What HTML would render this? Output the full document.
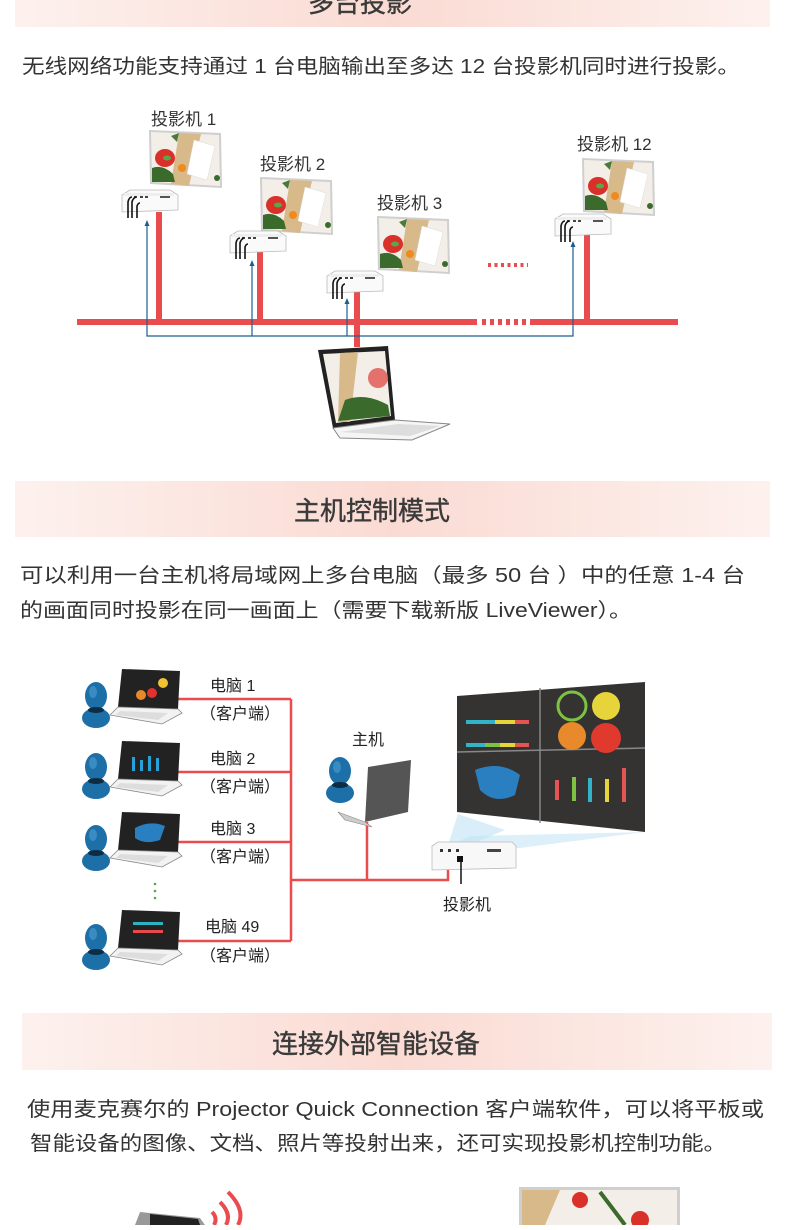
<!DOCTYPE html>
<html><head><meta charset="utf-8"><style>
html,body{margin:0;padding:0;background:#fff}
body{width:790px;height:1225px;overflow:hidden;position:relative;font-family:"Liberation Sans","Noto Sans CJK SC",sans-serif}
svg text{font-family:"Liberation Sans","Noto Sans CJK SC",sans-serif}
</style></head><body>
<svg width="790" height="1225" viewBox="0 0 790 1225" xmlns="http://www.w3.org/2000/svg">
<defs>
<linearGradient id="band" x1="0" x2="1" y1="0" y2="0">
<stop offset="0" stop-color="#fdf1ee"/><stop offset="0.5" stop-color="#fadbd3"/><stop offset="1" stop-color="#fdf1ee"/>
</linearGradient>
<g id="scr">
<polygon points="0,0 72,3 73,58 1,54" fill="#cfcfcf"/>
<polygon points="2,2 70,5 71,56 3,52" fill="#f3efe8"/>
<polygon points="30,3 52,4 40,56 22,54" fill="#d8b98a"/>
<polygon points="45,10 66,16 58,50 38,44" fill="#fff" stroke="#ddd" stroke-width="0.5"/>
<ellipse cx="16" cy="28" rx="10" ry="9" fill="#d9302a"/>
<ellipse cx="18" cy="28" rx="4" ry="2.5" fill="#5aa64a"/>
<path d="M3 38 Q14 34 24 44 L26 52 L3 52Z" fill="#3a6b2c"/>
<circle cx="33" cy="38" r="4" fill="#f08a1c"/>
<path d="M22 6 L30 3 L28 12Z" fill="#4a7a3a"/>
<circle cx="68" cy="48" r="3" fill="#3a6b2c"/>
</g>
<g id="proj">
<path d="M2 5 L10 0 L50 0 L58 5 L58 20 L2 22Z" fill="#fafafa" stroke="#bbb" stroke-width="0.8"/>
<rect x="4" y="3" width="50" height="3" fill="#eee"/>
<rect x="40" y="6" width="10" height="2" fill="#555"/>
<rect x="14" y="6" width="3" height="2" fill="#444"/><rect x="20" y="6" width="3" height="2" fill="#444"/><rect x="25" y="6" width="3" height="2" fill="#444"/>
<path d="M8 28 L8 12 Q9 7 12 7 M12 28 L12 12 Q13 8 16 7 M17 28 L17 16 Q18 13 20 13" stroke="#111" stroke-width="1.6" fill="none"/>
</g>
<g id="person">
<ellipse cx="14" cy="14" rx="11" ry="14" fill="#1d6fa8"/>
<ellipse cx="14" cy="36" rx="14" ry="10" fill="#1d6fa8"/>
<ellipse cx="14" cy="28" rx="8" ry="3" fill="#0c2d44"/>
<ellipse cx="11" cy="10" rx="4" ry="6" fill="#4f9fd3" opacity="0.6"/>
</g>
<g id="lap">
<polygon points="12,0 70,2 68,40 8,38" fill="#222"/>
<polygon points="8,38 68,40 72,44 52,55 0,46" fill="#f2f2f2" stroke="#888" stroke-width="0.8"/>
<polygon points="10,42 58,44 48,51 6,46" fill="#ddd"/>
</g>
</defs>

<rect x="15" y="0" width="755" height="27" fill="url(#band)"/>
<text x="360" y="12" font-size="26" fill="#3a3a3a" text-anchor="middle" stroke="#3a3a3a" stroke-width="0.4">多台投影</text>
<text x="22" y="73" font-size="20" fill="#333" textLength="718" lengthAdjust="spacingAndGlyphs">无线网络功能支持通过 1 台电脑输出至多达 12 台投影机同时进行投影。</text>

<text x="151" y="125" font-size="17" fill="#333">投影机 1</text>
<text x="260" y="170" font-size="17" fill="#333">投影机 2</text>
<text x="377" y="209" font-size="17" fill="#333">投影机 3</text>
<text x="577" y="150" font-size="17" fill="#333">投影机 12</text>
<use href="#scr" x="149" y="130"/>
<use href="#scr" x="260" y="177"/>
<use href="#scr" x="377" y="216"/>
<use href="#scr" x="582" y="158"/>
<g fill="#e94c4f">
<rect x="77" y="319" width="400" height="6"/>
<rect x="530" y="319" width="148" height="6"/>
<rect x="156" y="212" width="6" height="110"/>
<rect x="257" y="252" width="6" height="70"/>
<rect x="354" y="291" width="6" height="56"/>
<rect x="584" y="235" width="6" height="87"/>
</g>
<line x1="482" y1="322" x2="530" y2="322" stroke="#e94c4f" stroke-width="6" stroke-dasharray="4,4"/>
<line x1="488" y1="265" x2="528" y2="265" stroke="#e94c4f" stroke-width="4" stroke-dasharray="3,3.5"/>
<g stroke="#1c5f8e" stroke-width="1.2" fill="none">
<polyline points="147,224 147,336 573,336 573,245"/>
<line x1="252" y1="264" x2="252" y2="336"/>
<line x1="347" y1="302" x2="347" y2="336"/>
</g>
<g fill="#1c5f8e">
<polygon points="147,220 144.5,226 149.5,226"/>
<polygon points="252,260 249.5,266 254.5,266"/>
<polygon points="347,298 344.5,304 349.5,304"/>
<polygon points="573,241 570.5,247 575.5,247"/>
</g>
<use href="#proj" x="120" y="190"/>
<use href="#proj" x="228" y="231"/>
<use href="#proj" x="325" y="271"/>
<use href="#proj" x="553" y="214"/>
<polygon points="318,350 388,346 395,420 333,428" fill="#222"/>
<polygon points="323,354 385,351 391,416 336,423" fill="#f3efe8"/>
<polygon points="340,353 358,352 350,422 338,422" fill="#d8b98a"/>
<circle cx="378" cy="378" r="10" fill="#e05a55" opacity="0.85"/>
<path d="M345 400 Q365 392 388 405 L390 416 L338 421Z" fill="#3a6b2c"/>
<polygon points="333,428 395,420 450,424 412,440 340,438" fill="#f5f5f5" stroke="#888" stroke-width="1"/>
<polygon points="340,432 398,424 440,426 410,436" fill="#ddd"/>

<rect x="15" y="481" width="755" height="56" fill="url(#band)"/>
<text x="372" y="520" font-size="26" fill="#3a3a3a" text-anchor="middle" stroke="#3a3a3a" stroke-width="0.4">主机控制模式</text>
<text x="20" y="582" font-size="20" fill="#333" textLength="725" lengthAdjust="spacingAndGlyphs">可以利用一台主机将局域网上多台电脑（最多 50 台 ）中的任意 1-4 台</text>
<text x="20" y="617" font-size="20" fill="#333" textLength="612" lengthAdjust="spacingAndGlyphs">的画面同时投影在同一画面上（需要下载新版 LiveViewer）。</text>

<g stroke="#e94c4f" stroke-width="2.5" fill="none">
<line x1="175" y1="699" x2="291" y2="699"/>
<line x1="175" y1="772" x2="291" y2="772"/>
<line x1="175" y1="842" x2="291" y2="842"/>
<line x1="175" y1="941" x2="291" y2="941"/>
<line x1="291" y1="699" x2="291" y2="941"/>
<polyline points="291,880 448,880 448,852"/>
<line x1="367" y1="822" x2="367" y2="880"/>
</g>
<use href="#lap" x="110" y="669"/><use href="#person" x="82" y="682"/>
<use href="#lap" x="110" y="741"/><use href="#person" x="82" y="753"/>
<use href="#lap" x="110" y="812"/><use href="#person" x="82" y="825"/>
<use href="#lap" x="110" y="910"/><use href="#person" x="82" y="924"/>
<circle cx="152" cy="693" r="5" fill="#e0332f"/>
<circle cx="163" cy="683" r="5" fill="#f1c232"/>
<circle cx="141" cy="695" r="5" fill="#e8892b"/>
<g fill="#27a1d8"><rect x="132" y="757" width="3" height="14"/><rect x="140" y="760" width="3" height="11"/><rect x="148" y="756" width="3" height="15"/><rect x="156" y="758" width="3" height="13"/></g>
<path d="M135 828 Q150 820 165 826 L160 840 Q145 845 135 838Z" fill="#2a7fc0"/>
<rect x="133" y="922" width="30" height="3" fill="#2bb3c0"/><rect x="133" y="930" width="30" height="3" fill="#e64a4a"/>
<g font-size="16" fill="#222">
<text x="210" y="691">电脑 1</text><text x="200" y="719">（客户端）</text>
<text x="210" y="764">电脑 2</text><text x="200" y="792">（客户端）</text>
<text x="210" y="834">电脑 3</text><text x="200" y="862">（客户端）</text>
<text x="205" y="932">电脑 49</text><text x="200" y="961">（客户端）</text>
<text x="352" y="745">主机</text>
<text x="443" y="910">投影机</text>
</g>
<g fill="#5aa64a"><circle cx="155" cy="884" r="1.3"/><circle cx="155" cy="891" r="1.3"/><circle cx="155" cy="898" r="1.3"/></g>
<use href="#person" x="326" y="757"/>
<polygon points="368,767 411,760 408,812 365,822" fill="#555"/>
<polygon points="338,812 365,822 372,827 345,820" fill="#ccc" stroke="#888" stroke-width="0.6"/>
<polygon points="470,836 645,832 520,848 440,850" fill="#cfeaf7" opacity="0.7"/>
<polygon points="458,814 505,830 470,845 448,845" fill="#bfe3f5" opacity="0.6"/>
<polygon points="457,696 645,682 645,832 457,812" fill="#353232"/>
<line x1="540" y1="688" x2="540" y2="823" stroke="#888" stroke-width="1.5"/>
<line x1="457" y1="752" x2="645" y2="748" stroke="#888" stroke-width="1.5"/>
<rect x="466" y="720" width="63" height="4" fill="#31b3c8"/><rect x="495" y="720" width="20" height="4" fill="#e6d43a"/><rect x="515" y="720" width="14" height="4" fill="#e65353"/>
<rect x="466" y="743" width="63" height="4" fill="#31b3c8"/><rect x="485" y="743" width="15" height="4" fill="#7dc242"/><rect x="500" y="743" width="15" height="4" fill="#e6d43a"/><rect x="515" y="743" width="14" height="4" fill="#e65353"/>
<circle cx="572" cy="706" r="14" fill="none" stroke="#7dc242" stroke-width="3"/>
<circle cx="606" cy="706" r="14" fill="#e6d43a"/>
<circle cx="572" cy="736" r="14" fill="#e8892b"/>
<circle cx="606" cy="738" r="15" fill="#e03a2f"/>
<path d="M475 770 Q500 760 520 775 L515 795 Q495 805 480 790Z" fill="#2a7fc0"/>
<rect x="555" y="780" width="4" height="20" fill="#e65353"/><rect x="572" y="777" width="4" height="24" fill="#7dc242"/><rect x="588" y="778" width="4" height="24" fill="#31b3c8"/><rect x="605" y="779" width="4" height="23" fill="#e6d43a"/><rect x="622" y="768" width="4" height="34" fill="#e65353"/>
<path d="M432 846 L438 842 L512 842 L516 846 L516 868 L432 870Z" fill="#f8f8f8" stroke="#bbb" stroke-width="0.8"/>
<rect x="487" y="849" width="14" height="3" fill="#444"/>
<rect x="440" y="849" width="3" height="3" fill="#333"/><rect x="448" y="849" width="3" height="3" fill="#333"/><rect x="456" y="849" width="3" height="3" fill="#333"/>
<rect x="457" y="856" width="6" height="6" fill="#111"/>
<line x1="461" y1="860" x2="461" y2="884" stroke="#111" stroke-width="1.5"/>

<rect x="22" y="1013" width="750" height="57" fill="url(#band)"/>
<text x="376" y="1053" font-size="26" fill="#3a3a3a" text-anchor="middle" stroke="#3a3a3a" stroke-width="0.4">连接外部智能设备</text>
<text x="27" y="1116" font-size="20" fill="#333" textLength="737" lengthAdjust="spacingAndGlyphs">使用麦克赛尔的  Projector Quick Connection 客户端软件，可以将平板或</text>
<text x="30" y="1150" font-size="20" fill="#333" textLength="696" lengthAdjust="spacingAndGlyphs">智能设备的图像、文档、照片等投射出来，还可实现投影机控制功能。</text>

<polygon points="140,1212 200,1218 205,1225 135,1225" fill="#999"/>
<polygon points="150,1214 198,1219 200,1225 150,1225" fill="#222"/>
<g stroke="#e94c4f" stroke-width="4" fill="none">
<path d="M212 1212 Q218 1218 214 1225"/>
<path d="M220 1202 Q232 1214 226 1225"/>
<path d="M228 1192 Q246 1210 238 1225"/>
</g>
<rect x="519" y="1187" width="161" height="38" fill="#cfcfcf"/>
<rect x="522" y="1190" width="155" height="35" fill="#f3efe8"/>
<polygon points="522,1190 560,1190 545,1225 522,1225" fill="#d8b98a"/>
<circle cx="580" cy="1200" r="8" fill="#d9302a"/>
<circle cx="640" cy="1220" r="9" fill="#d9302a"/>
<path d="M600 1192 Q610 1205 625 1225" stroke="#3a6b2c" stroke-width="4" fill="none"/>
</svg>
</body></html>
